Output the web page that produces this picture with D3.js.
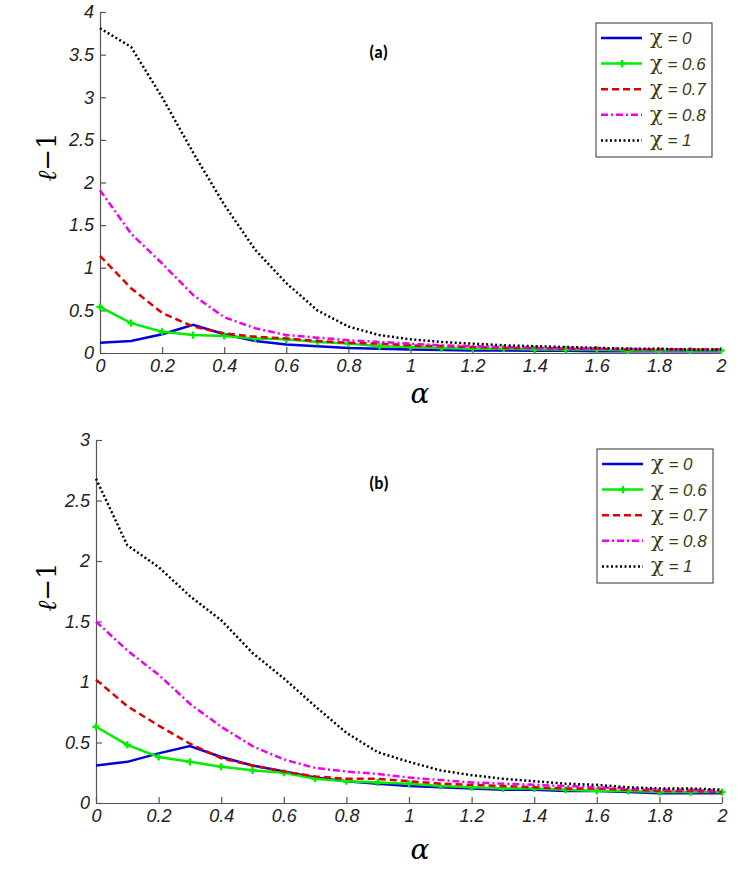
<!DOCTYPE html>
<html>
<head>
<meta charset="utf-8">
<script src="https://cdn.jsdelivr.net/npm/d3@7"></script>
<style>
  body { margin: 0; background: #fff; }
  .tick text { font-family: Arial, "Liberation Sans", sans-serif; font-style: italic; font-size: 18px; fill: #222; }
</style>
</head>
<body>
<div class="canvas"></div>
<script>
const alphas = [0, 0.1, 0.2, 0.3, 0.4, 0.5, 0.6, 0.7, 0.8, 0.9, 1, 1.1, 1.2, 1.3, 1.4, 1.5, 1.6, 1.7, 1.8, 1.9, 2];
const chiLabels = ['0', '0.6', '0.7', '0.8', '1'];
const xTicks = [0, 0.2, 0.4, 0.6, 0.8, 1, 1.2, 1.4, 1.6, 1.8, 2];
const yTicksA = [0, 0.5, 1, 1.5, 2, 2.5, 3, 3.5, 4];
const yTicksB = [0, 0.5, 1, 1.5, 2, 2.5, 3];

// panel (a)
const a_chi0 = [0.12, 0.14, 0.22, 0.33, 0.22, 0.14, 0.10, 0.08, 0.06, 0.05, 0.04, 0.035, 0.03, 0.03, 0.025, 0.025, 0.02, 0.02, 0.02, 0.02, 0.02];
const a_chi06 = [0.54, 0.35, 0.25, 0.21, 0.20, 0.17, 0.16, 0.13, 0.11, 0.08, 0.07, 0.06, 0.05, 0.05, 0.04, 0.04, 0.04, 0.03, 0.03, 0.03, 0.03];
const a_chi07 = [1.14, 0.76, 0.47, 0.31, 0.23, 0.19, 0.17, 0.14, 0.12, 0.11, 0.09, 0.08, 0.07, 0.06, 0.06, 0.05, 0.05, 0.04, 0.04, 0.04, 0.04];
const a_chi08 = [1.91, 1.40, 1.05, 0.68, 0.42, 0.29, 0.21, 0.18, 0.15, 0.13, 0.11, 0.09, 0.08, 0.07, 0.06, 0.06, 0.05, 0.05, 0.04, 0.04, 0.04];
const a_chi1 = [3.81, 3.59, 3.0, 2.35, 1.74, 1.21, 0.82, 0.50, 0.31, 0.21, 0.16, 0.13, 0.11, 0.09, 0.08, 0.07, 0.06, 0.05, 0.05, 0.04, 0.04];

// panel (b)
const b_chi0 = [0.31, 0.34, 0.41, 0.47, 0.38, 0.31, 0.26, 0.21, 0.18, 0.16, 0.14, 0.13, 0.12, 0.11, 0.11, 0.10, 0.10, 0.09, 0.08, 0.08, 0.08];
const b_chi06 = [0.63, 0.48, 0.38, 0.34, 0.30, 0.27, 0.25, 0.20, 0.18, 0.17, 0.16, 0.14, 0.13, 0.12, 0.12, 0.11, 0.10, 0.10, 0.09, 0.09, 0.09];
const b_chi07 = [1.02, 0.80, 0.64, 0.49, 0.37, 0.31, 0.26, 0.22, 0.20, 0.20, 0.18, 0.16, 0.15, 0.14, 0.13, 0.12, 0.12, 0.11, 0.10, 0.10, 0.09];
const b_chi08 = [1.50, 1.26, 1.06, 0.82, 0.63, 0.47, 0.36, 0.29, 0.26, 0.24, 0.21, 0.19, 0.17, 0.16, 0.15, 0.14, 0.13, 0.12, 0.11, 0.11, 0.10];
const b_chi1 = [2.68, 2.13, 1.95, 1.71, 1.51, 1.24, 1.03, 0.80, 0.58, 0.42, 0.34, 0.27, 0.23, 0.20, 0.18, 0.16, 0.15, 0.13, 0.12, 0.12, 0.11];

const styles = [
  { color: '#0000dd', dash: null, marker: false },
  { color: '#00ee00', dash: null, marker: true },
  { color: '#e00000', dash: '7,4', marker: false },
  { color: '#ee00ee', dash: '7,3,2,3', marker: false },
  { color: '#000000', dash: '2,2.5', marker: false }
];

const svg = d3.select('.canvas')
  .append('svg')
    .attr('width', 747)
    .attr('height', 872)

var drawPanel = (p) => {
  const x = d3.scaleLinear().domain([0, 2]).range([p.left, p.right]);
  const y = d3.scaleLinear().domain([0, p.ymax]).range([p.bottom, p.top]);
  const g = svg.append('g');

  const xAxis = d3.axisBottom(x)
    .tickValues(xTicks)
    .tickFormat(d => String(d))
    .tickSizeInner(-6)
    .tickSizeOuter(0)
    .tickPadding(4);
  const yAxis = d3.axisLeft(y)
    .tickValues(p.yTicks)
    .tickFormat(d => String(d))
    .tickSizeInner(-6)
    .tickSizeOuter(0)
    .tickPadding(6);

  const gx = g.append('g').attr('transform', `translate(0,${p.bottom})`).call(xAxis);
  const gy = g.append('g').attr('transform', `translate(${p.left},0)`).call(yAxis);
  g.selectAll('.domain, .tick line').attr('stroke', '#555').attr('stroke-width', 1.2);
  gx.selectAll('text').attr('dy', '0.85em');

  const line = d3.line()
    .x((d, i) => x(alphas[i]))
    .y(d => y(d));

  p.series.forEach((s, k) => {
    const st = styles[k];
    g.append('path')
      .attr('d', line(s))
      .attr('fill', 'none')
      .attr('stroke', st.color)
      .attr('stroke-width', 2.5)
      .attr('stroke-dasharray', st.dash);
    if (st.marker) {
      g.selectAll(null)
        .data(s)
        .enter()
        .append('path')
          .attr('d', d3.symbol().type(d3.symbolCross).size(28))
          .attr('transform', (d, i) => `translate(${x(alphas[i])},${y(d)})`)
          .attr('fill', st.color);
    }
  });

  // panel tag
  g.append('text')
    .attr('x', 369).attr('y', p.tagY)
    .attr('font-family', 'Carlito, "Open Sans", Arial, sans-serif')
    .attr('font-weight', 'bold')
    .attr('font-size', 17)
    .text(p.tag);

  // axis labels
  g.append('text')
    .attr('x', 420).attr('y', p.alphaY)
    .attr('text-anchor', 'middle')
    .attr('font-family', '"DejaVu Serif", serif')
    .attr('font-style', 'italic')
    .attr('font-size', 28)
    .text('α');
  const yl = g.append('text')
    .attr('transform', `translate(56,${p.ylabY}) rotate(-90)`)
    .attr('text-anchor', 'middle')
    .attr('font-family', '"DejaVu Serif", serif')
    .attr('font-size', 26);
  yl.append('tspan').attr('font-style', 'italic').text('ℓ');
  yl.append('tspan').text('−1');

  // legend
  const lg = g.append('g').attr('transform', `translate(${p.legX},${p.legY})`);
  lg.append('rect')
    .attr('width', 116).attr('height', 134)
    .attr('fill', '#fff')
    .attr('stroke', '#333').attr('stroke-width', 1);
  chiLabels.forEach((lab, k) => {
    const st = styles[k];
    const yy = 15 + k * 25.6;
    lg.append('line')
      .attr('x1', 5).attr('x2', 46).attr('y1', yy).attr('y2', yy)
      .attr('stroke', st.color).attr('stroke-width', 2.5)
      .attr('stroke-dasharray', st.dash);
    if (st.marker) {
      lg.append('path')
        .attr('d', d3.symbol().type(d3.symbolCross).size(28))
        .attr('transform', `translate(26,${yy})`)
        .attr('fill', st.color);
    }
    const t = lg.append('text')
      .attr('x', 54).attr('y', yy + 6)
      .attr('fill', '#3a3a12')
      .attr('font-size', 17);
    t.append('tspan')
      .attr('font-family', '"DejaVu Serif", serif')
      .attr('font-size', 21)
      .text('χ');
    t.append('tspan')
      .attr('font-family', 'Arial, "Liberation Sans", sans-serif')
      .attr('font-style', 'italic')
      .text(' = ' + lab);
  });
}

drawPanel({
  left: 100, right: 721, top: 12, bottom: 353, ymax: 4, yTicks: yTicksA,
  series: [a_chi0, a_chi06, a_chi07, a_chi08, a_chi1],
  tag: '(a)', tagY: 58, alphaY: 403, ylabY: 157, legX: 596, legY: 23
});

drawPanel({
  left: 96, right: 722, top: 440, bottom: 803, ymax: 3, yTicks: yTicksB,
  series: [b_chi0, b_chi06, b_chi07, b_chi08, b_chi1],
  tag: '(b)', tagY: 489, alphaY: 859, ylabY: 587, legX: 597, legY: 449
});
</script>
</body>
</html>
